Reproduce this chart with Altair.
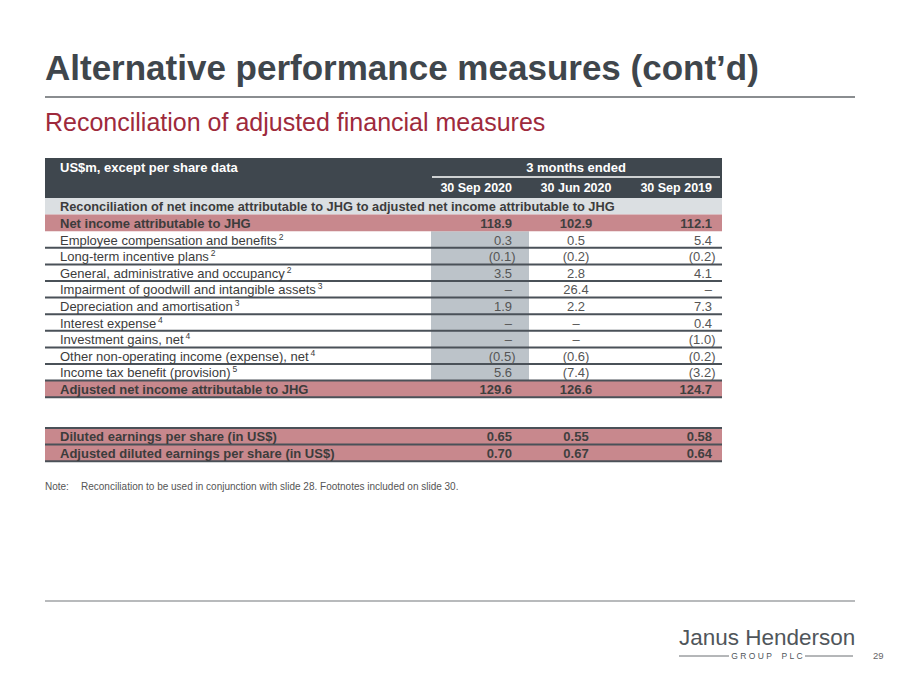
import altair as alt
import pandas as pd

# ---------------- data ----------------
title = "Alternative performance measures (cont\u2019d)"
subtitle = "Reconciliation of adjusted financial measures"
header_left = "US$m, except per share data"
header_group = "3 months ended"
periods = ["30 Sep 2020", "30 Jun 2020", "30 Sep 2019"]
section_label = "Reconciliation of net income attributable to JHG to adjusted net income attributable to JHG"
row_labels = [
    "Net income attributable to JHG",
    "Employee compensation and benefits",
    "Long-term incentive plans",
    "General, administrative and occupancy",
    "Impairment of goodwill and intangible assets",
    "Depreciation and amortisation",
    "Interest expense",
    "Investment gains, net",
    "Other non-operating income (expense), net",
    "Income tax benefit (provision)",
    "Adjusted net income attributable to JHG",
    "Diluted earnings per share (in US$)",
    "Adjusted diluted earnings per share (in US$)",
]
footnote_refs = ["", "2", "2", "2", "3", "3", "4", "4", "4", "5", "", "", ""]
sep_2020 = [118.9, 0.3, -0.1, 3.5, None, 1.9, None, None, -0.5, 5.6, 129.6, 0.65, 0.70]
jun_2020 = [102.9, 0.5, -0.2, 2.8, 26.4, 2.2, None, None, -0.6, -7.4, 126.6, 0.55, 0.67]
sep_2019 = [112.1, 5.4, -0.2, 4.1, None, 7.3, 0.4, -1.0, -0.2, -3.2, 124.7, 0.58, 0.64]
note_label = "Note:"
note_text = "Reconciliation to be used in conjunction with slide 28. Footnotes included on slide 30."
logo_name = "Janus Henderson"
logo_sub = "GROUP PLC"
page_number = "29"

# ---------------- layout / style ----------------
FONT = "Liberation Sans"
W, H = 884, 659
XS = alt.Scale(domain=[8, 8 + W], nice=False, zero=False)
YS = alt.Scale(domain=[8, 8 + H], nice=False, zero=False, reverse=True)

DARK = "#3f474e"
PINK = "#c8888d"
LIGHT = "#dbdfe2"
HILITE = "#bcc3c9"
LINE = "#4a5158"
TXT = "#3c3c3c"
VAL = "#555555"

TX0, TX1 = 45, 722
LABEL_X = 60
H_TOP, H_MID = 158, 178
T0, RH, GAP = 198, 16.6, 30.8
bold_rows = {0, 10, 11, 12}
eps_rows = {11, 12}
REG_SIZE, BOLD_SIZE = 13, 13

# Arial / Liberation Sans advance widths (per 1000 em) for measuring labels
AW = {" ": 278, "a": 556, "b": 556, "c": 500, "d": 556, "e": 556, "f": 278, "g": 556,
      "h": 556, "i": 222, "j": 222, "k": 500, "l": 222, "m": 833, "n": 556, "o": 556,
      "p": 556, "q": 556, "r": 333, "s": 500, "t": 278, "u": 556, "v": 500, "w": 722,
      "x": 500, "y": 500, "z": 500, "(": 333, ")": 333, ",": 278, "-": 333,
      "E": 667, "L": 556, "G": 778, "I": 278, "D": 722, "O": 778}


def text_width(s, size):
    return sum(AW.get(ch, 556) for ch in s) * size / 1000.0


def row_top(i):  # i: index into row_labels (section row is above)
    k = i + 1
    if i <= 10:
        return T0 + k * RH
    return T0 + 12 * RH + GAP + (i - 11) * RH


def fmt(v, i):
    if v is None:
        return "\u2013"
    d = 2 if i in eps_rows else 1
    s = f"{abs(v):.{d}f}"
    return f"({s})" if v < 0 else s


rects, rules, texts = [], [], []


def T(text, x, y, size, color, weight="normal", align="left", baseline="middle"):
    texts.append(dict(text=text, x=x, y=y, size=size, color=color,
                      weight=weight, align=align, baseline=baseline))


# title block
T(title, 45, 80, 35, "#3f464c", "bold", "left", "alphabetic")
rules.append(dict(x=45, x2=855, y=97, color="#8a8d90", w=2))
T(subtitle, 45, 131, 25, "#9e2a3c", "normal", "left", "alphabetic")

# header
rects.append(dict(x=TX0, x2=TX1, y=H_TOP, y2=T0, fill=DARK))
T(header_left, LABEL_X, 168, 13, "white", "bold")
T(header_group, 576, 168, 13, "white", "bold", "center")
rules.append(dict(x=432, x2=720, y=177, color="white", w=1.5))
col_x = [512, 576, 712]
col_align = ["right", "center", "right"]
for p, cx, al in zip(periods, col_x, col_align):
    T(p, cx, 188, 12.5, "white", "bold", al)

# section row
rects.append(dict(x=TX0, x2=TX1, y=T0, y2=T0 + RH, fill=LIGHT))
T(section_label, LABEL_X, T0 + RH / 2 + 1, 12.8, TXT, "bold")

# highlight column
rects.append(dict(x=431, x2=529, y=row_top(1), y2=row_top(10), fill=HILITE))

columns = [sep_2020, jun_2020, sep_2019]
for i, lab in enumerate(row_labels):
    top = row_top(i)
    yc = top + RH / 2 + 1
    bold = i in bold_rows
    if bold:
        rects.append(dict(x=TX0, x2=TX1, y=top, y2=top + RH, fill=PINK))
    size = BOLD_SIZE if bold else REG_SIZE
    T(lab, LABEL_X, yc, size, TXT, "bold" if bold else "normal")
    if footnote_refs[i]:
        sx = LABEL_X + text_width(lab, REG_SIZE) + 2
        T(footnote_refs[i], sx, yc - 4, 8.5, TXT, "normal", "left", "middle")
    for col, cx, al in zip(columns, col_x, col_align):
        s = fmt(col[i], i)
        x = cx + (3.5 if (al == "right" and s.endswith(")")) else 0)
        T(s, x, yc, size, "#3f3f3f" if bold else VAL,
          "bold" if bold else "normal", al)

# row separator lines
for i in range(1, 11):
    rules.append(dict(x=TX0, x2=TX1, y=row_top(i) + RH, color=LINE, w=2))
for i in (11, 12):
    rules.append(dict(x=TX0, x2=TX1, y=row_top(i), color=LINE, w=2))
rules.append(dict(x=TX0, x2=TX1, y=row_top(12) + RH, color=LINE, w=2))

# note
T(note_label, 45, 490, 10, "#555555", "normal", "left", "alphabetic")
T(note_text, 81, 490, 10, "#555555", "normal", "left", "alphabetic")

# footer
rules.append(dict(x=45, x2=855, y=601, color="#a0a3a6", w=1.5))
T(logo_name, 679, 645, 22.5, "#50565b", "normal", "left", "alphabetic")
sub_spaced = "\u00a0".join(ch if ch != " " else "\u00a0\u00a0" for ch in logo_sub)
T(sub_spaced, 767, 656, 8.5, "#50565b", "normal", "center", "middle")
rules.append(dict(x=679, x2=729, y=656, color="#6a6f73", w=1))
rules.append(dict(x=805, x2=853, y=656, color="#6a6f73", w=1))
T(page_number, 873, 656, 9.5, "#666666", "normal", "left", "middle")

# ---------------- chart ----------------
rect_df = pd.DataFrame(rects)
rule_df = pd.DataFrame(rules)
text_df = pd.DataFrame(texts)

layers = [
    alt.Chart(rect_df).mark_rect().encode(
        x=alt.X("x:Q", scale=XS, axis=None),
        x2="x2:Q",
        y=alt.Y("y:Q", scale=YS, axis=None),
        y2="y2:Q",
        color=alt.Color("fill:N", scale=None),
    ),
    alt.Chart(rule_df).mark_rule().encode(
        x=alt.X("x:Q", scale=XS, axis=None),
        x2="x2:Q",
        y=alt.Y("y:Q", scale=YS, axis=None),
        color=alt.Color("color:N", scale=None),
        strokeWidth=alt.StrokeWidth("w:Q", scale=None),
    ),
]

for (weight, align, baseline), g in text_df.groupby(["weight", "align", "baseline"]):
    layers.append(
        alt.Chart(g.reset_index(drop=True)).mark_text(
            font=FONT, fontWeight=weight, align=align, baseline=baseline
        ).encode(
            x=alt.X("x:Q", scale=XS, axis=None),
            y=alt.Y("y:Q", scale=YS, axis=None),
            text="text:N",
            size=alt.Size("size:Q", scale=None),
            color=alt.Color("color:N", scale=None),
        )
    )

chart = alt.layer(*layers).properties(
    width=W, height=H, padding=0, autosize="none", background="white"
).configure_view(stroke=None)

chart.save("out.html", embed_options={"renderer": "svg", "actions": False})
